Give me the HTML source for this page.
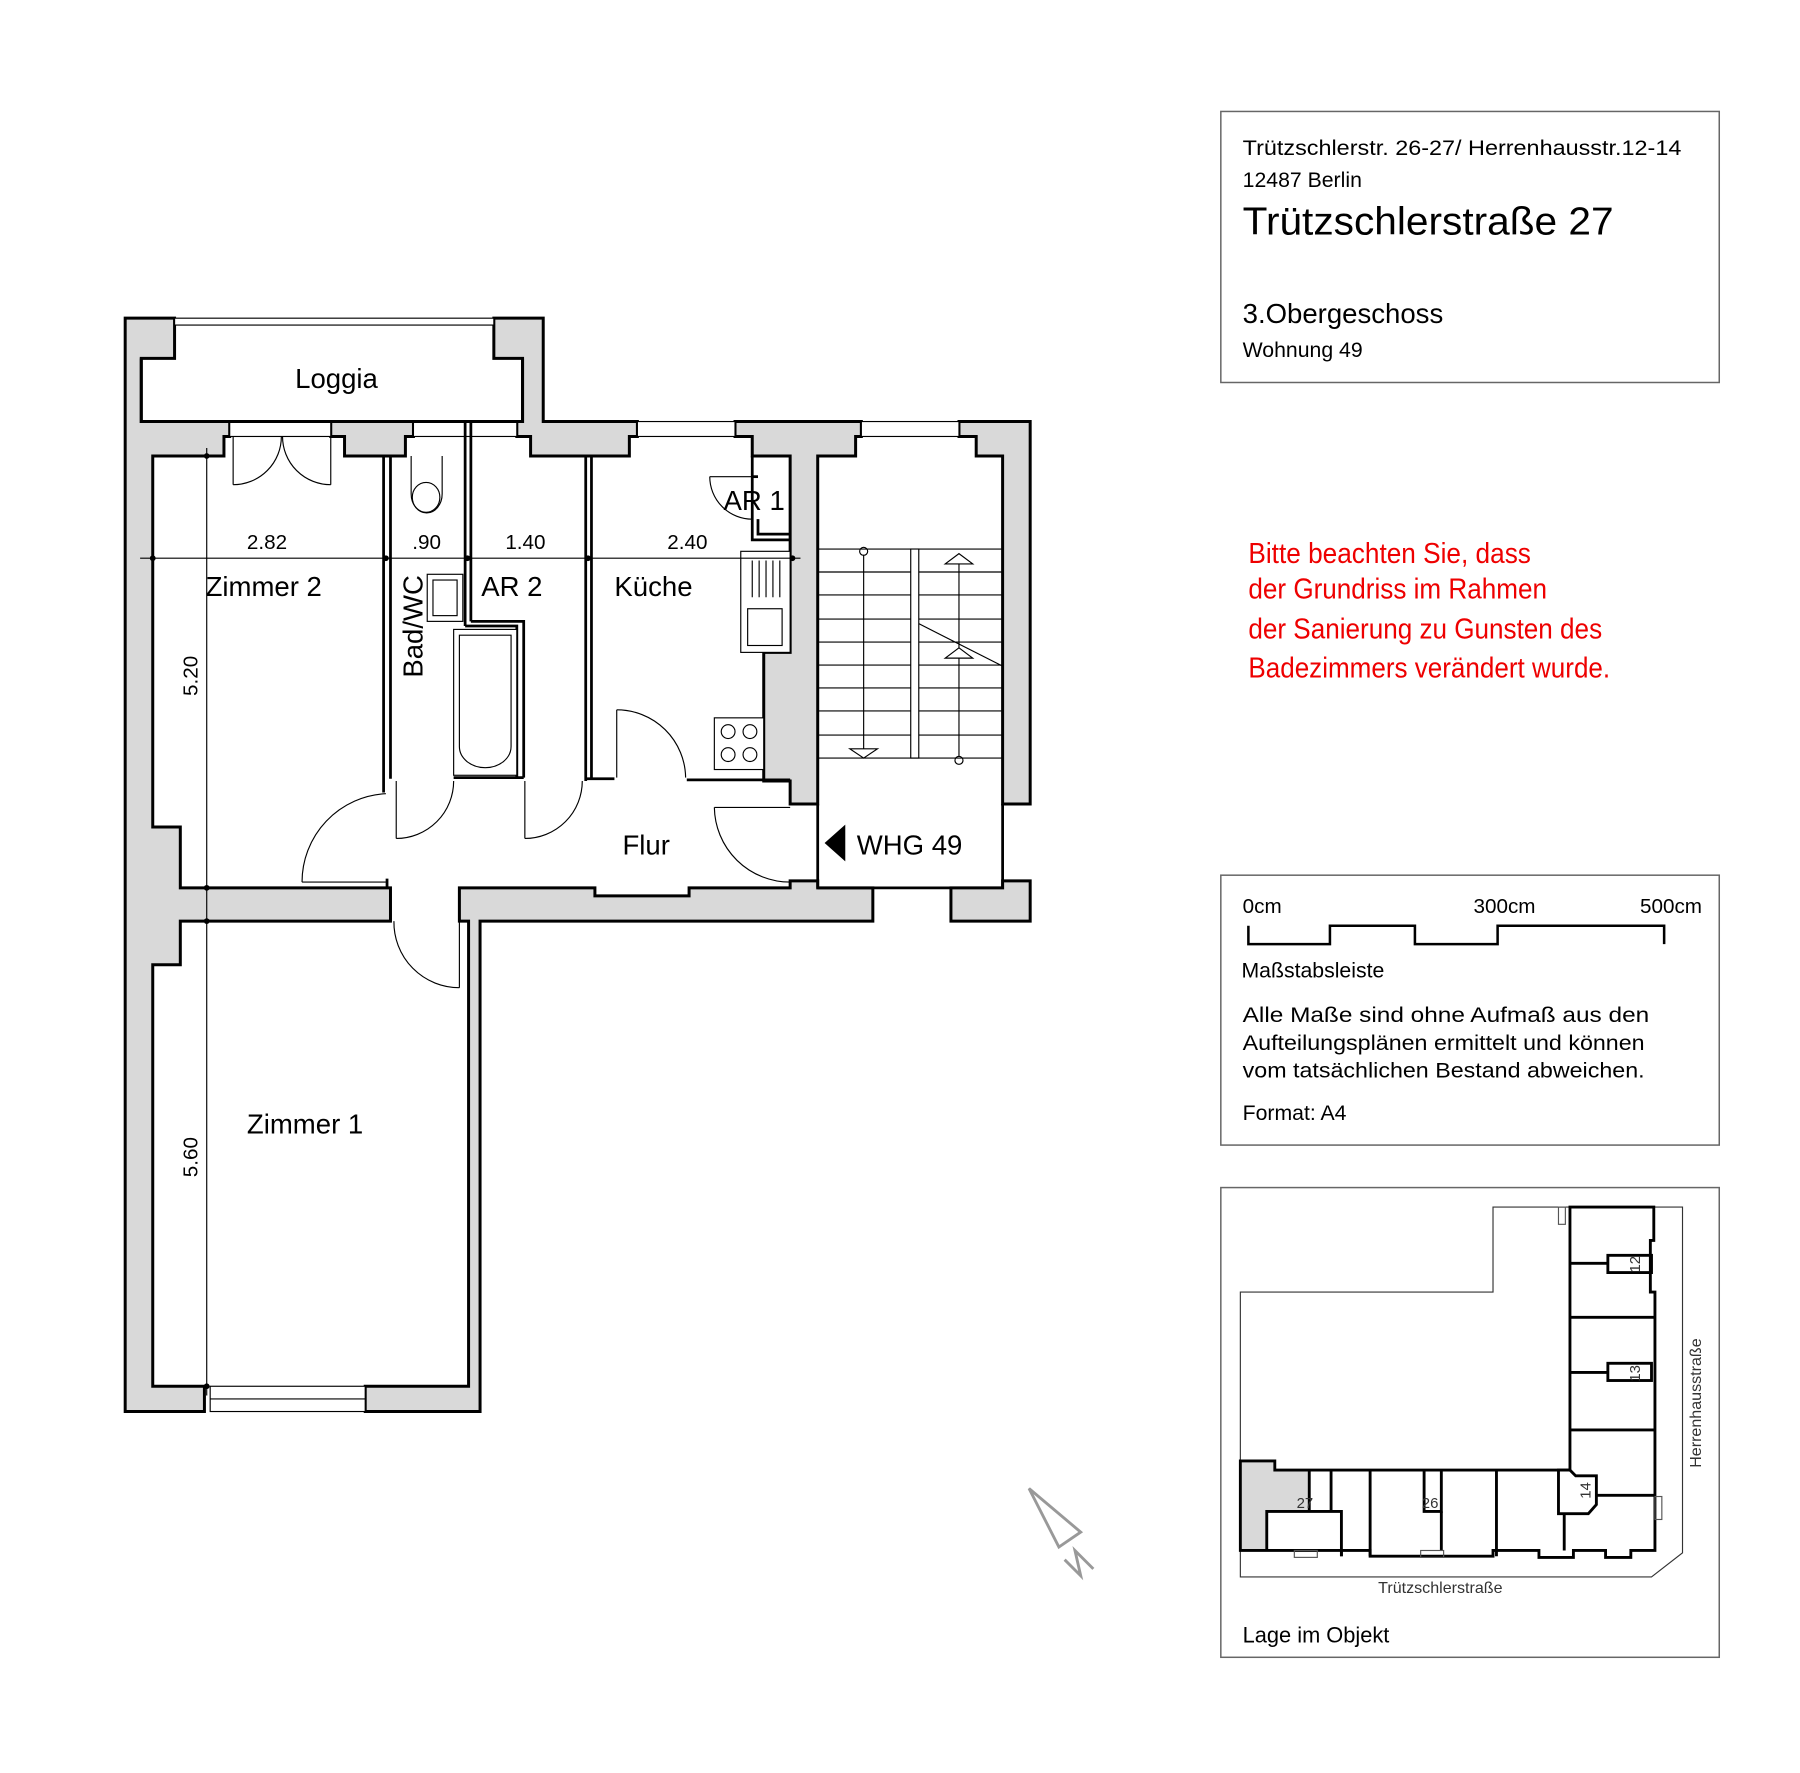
<!DOCTYPE html>
<html><head><meta charset="utf-8"><style>
html,body{margin:0;padding:0;background:#fff}
svg{display:block}
text{font-family:"Liberation Sans",Arial,sans-serif}
</style></head><body>
<svg width="1800" height="1773" viewBox="0 0 1567.3 1543.7" xmlns="http://www.w3.org/2000/svg">
<rect x="0" y="0" width="1568" height="1544" fill="#fff"/>
<g fill="#d9d9d9" stroke="#000" stroke-width="2.6" stroke-linejoin="miter">
<polygon points="109,277 152,277 152,312 123,312 123,367 200,367 200,380 195,380 195,397 133,397 133,720 157,720 157,773 340,773 340,802 157,802 157,840 133,840 133,1207 178,1207 178,1229 109,1229"/>
<polygon points="288,367 360,367 360,380 353,380 353,397 300,397 300,380 288,380"/>
<polygon points="430,277 473,277 473,367 555,367 555,380 548,380 548,397 462,397 462,380 450,380 450,367 455,367 455,312 430,312"/>
<polygon points="640,367 750,367 750,380 745,380 745,397 712,397 712,700 688,700 688,680 665,680 665,568 688,568 688,397 655,397 655,380 640,380"/>
<polygon points="835,367 897,367 897,700 873,700 873,397 850,397 850,380 835,380"/>
<polygon points="400,773 518,773 518,780 600,780 600,773 688,773 688,767 712,767 712,773 760,773 760,802 418,802 418,1229 318,1229 318,1207 408,1207 408,802 400,802"/>
<polygon points="828,773 873,773 873,767 897,767 897,802 828,802"/>
</g>
<g fill="#fff" stroke="#000" stroke-width="1">
<rect x="152" y="277" width="278" height="6"/>
<rect x="200" y="367" width="88" height="13"/>
<rect x="360" y="367" width="90" height="13"/>
<rect x="555" y="367" width="85" height="13"/>
<rect x="750" y="367" width="85" height="13"/>
<rect x="183" y="1207" width="135" height="22"/>
<line x1="183" y1="1218" x2="318" y2="1218"/>
</g>
<polyline points="123,312 123,367 455,367 455,312" fill="none" stroke="#000" stroke-width="2.6"/>
<g fill="none" stroke="#000" stroke-width="2.4">
<line x1="334" y1="397" x2="334" y2="690"/><line x1="340" y1="397" x2="340" y2="678"/>
<line x1="405" y1="367" x2="405" y2="545"/><line x1="410" y1="367" x2="410" y2="541"/>
<polyline points="405,545 450,545 450,677"/><polyline points="410,541 456,541 456,677"/>
<line x1="395" y1="677" x2="456" y2="677"/>
<line x1="510" y1="397" x2="510" y2="680"/><line x1="515" y1="397" x2="515" y2="677"/>
<line x1="510" y1="678" x2="535" y2="678"/>
<line x1="598" y1="679" x2="688" y2="679"/>
<polyline points="655,397 655,470 688,470"/><polyline points="660,452 660,465 688,465"/>
<line x1="655" y1="415" x2="660" y2="415"/>
<line x1="712" y1="700" x2="712" y2="773"/><line x1="873" y1="700" x2="873" y2="773"/>
<line x1="712" y1="773" x2="828" y2="773"/>
<line x1="337" y1="765" x2="337" y2="773"/>
</g>
<g fill="none" stroke="#000" stroke-width="1">
<path d="M263,768 A77,77 0 0 1 336,691"/><line x1="263" y1="768" x2="336" y2="768"/>
<line x1="345" y1="680" x2="345" y2="730"/><path d="M345,730 A50,50 0 0 0 395,680"/>
<line x1="457" y1="680" x2="457" y2="730"/><path d="M457,730 A50,50 0 0 0 507,680"/>
<line x1="537" y1="618" x2="537" y2="677"/><path d="M537,618 A60,60 0 0 1 597,677"/>
<line x1="622" y1="703" x2="688" y2="703"/><path d="M622,703 A66,66 0 0 0 688,768"/>
<line x1="400" y1="802" x2="400" y2="860"/><path d="M343,802 A57,57 0 0 0 400,860"/>
<line x1="203" y1="380" x2="203" y2="422"/><path d="M245,380 A42,42 0 0 1 203,422"/>
<line x1="288" y1="380" x2="288" y2="422"/><path d="M246,380 A42,42 0 0 0 288,422"/>
<line x1="618" y1="415" x2="655" y2="415"/><path d="M618,415 A37,37 0 0 0 655,452"/>
</g>
<g fill="#fff" stroke="#000" stroke-width="1">
<path d="M358,397 L358,430 A13,16 0 1 0 385,430 L385,397"/>
<ellipse cx="371" cy="433" rx="12" ry="13"/>
<rect x="372" y="500" width="31" height="41"/><rect x="377" y="505" width="21" height="31"/>
<rect x="395" y="548" width="55" height="127"/>
<path d="M400,553 L445,553 L445,650 A22,18 0 0 1 400,650 Z"/>
<rect x="645" y="480" width="43" height="88"/><rect x="651" y="530" width="30" height="32"/>
<g><line x1="655" y1="488" x2="655" y2="520"/><line x1="661" y1="488" x2="661" y2="520"/><line x1="667" y1="488" x2="667" y2="520"/><line x1="673" y1="488" x2="673" y2="520"/><line x1="679" y1="488" x2="679" y2="520"/></g>
<rect x="622" y="625" width="43" height="45"/>
<circle cx="634" cy="637" r="6"/><circle cx="653" cy="637" r="6"/><circle cx="634" cy="657" r="6"/><circle cx="653" cy="657" r="6"/>
</g>
<g stroke="#000" stroke-width="1" fill="none">
<line x1="712" y1="478" x2="873" y2="478"/><line x1="712" y1="498" x2="873" y2="498"/><line x1="712" y1="518" x2="873" y2="518"/><line x1="712" y1="539" x2="873" y2="539"/><line x1="712" y1="559" x2="873" y2="559"/><line x1="712" y1="579" x2="873" y2="579"/><line x1="712" y1="599" x2="873" y2="599"/><line x1="712" y1="619" x2="873" y2="619"/><line x1="712" y1="640" x2="873" y2="640"/><line x1="712" y1="660" x2="873" y2="660"/>
<rect x="793" y="478" width="7" height="182" fill="#fff"/>
<line x1="752" y1="483" x2="752" y2="658"/><circle cx="752" cy="480" r="3.5"/>
<polygon points="740,652 764,652 752,660" fill="#fff"/>
<line x1="835" y1="486" x2="835" y2="659"/><circle cx="835" cy="662" r="3.5"/>
<polygon points="823,491 847,491 835,482" fill="#fff"/>
<polygon points="823,573 847,573 835,564" fill="#fff"/>
<line x1="800" y1="543" x2="873" y2="580"/>
</g>
<polygon points="718,734 736,718 736,750" fill="#000"/>
<g stroke="#000" stroke-width="1">
<line x1="122" y1="486" x2="697" y2="486"/>
<line x1="180" y1="390" x2="180" y2="1215"/>
</g>
<g fill="#000"><circle cx="133" cy="486" r="2.5"/><circle cx="336" cy="486" r="2.5"/><circle cx="407" cy="486" r="2.5"/><circle cx="512" cy="486" r="2.5"/><circle cx="690" cy="486" r="2.5"/>
<circle cx="180" cy="397" r="2.5"/><circle cx="180" cy="773" r="2.5"/><circle cx="180" cy="802" r="2.5"/><circle cx="180" cy="1207" r="2.5"/></g>
<g font-size="24" fill="#000">
<text x="257" y="338">Loggia</text>
<text x="179" y="519">Zimmer 2</text>
<text x="419" y="519">AR 2</text>
<text x="535" y="519">Küche</text>
<text x="630" y="444">AR 1</text>
<text x="542" y="744">Flur</text>
<text x="746" y="744">WHG 49</text>
<text x="215" y="987">Zimmer 1</text>
<text transform="translate(368,590) rotate(-90)">Bad/WC</text>
</g>
<g font-size="18" fill="#000">
<text x="215" y="478">2.82</text><text x="359" y="478">.90</text><text x="440" y="478">1.40</text><text x="581" y="478">2.40</text>
<text transform="translate(172,606) rotate(-90)">5.20</text>
<text transform="translate(172,1025) rotate(-90)">5.60</text>
</g>
<g fill="none" stroke="#999" stroke-width="2.5">
<polygon points="896,1296 941,1334 922,1347"/>
<polyline points="927,1358 941,1372 936,1350 952,1366"/>
</g>
<g fill="none" stroke="#666" stroke-width="1.3">
<rect x="1063" y="97" width="434" height="236"/>
<rect x="1063" y="762" width="434" height="235"/>
<rect x="1063" y="1034" width="434" height="409"/>
</g>
<g fill="#000">
<text x="1082" y="135" font-size="18.5" textLength="382" lengthAdjust="spacingAndGlyphs">Trützschlerstr. 26-27/ Herrenhausstr.12-14</text>
<text x="1082" y="163" font-size="18.5">12487 Berlin</text>
<text x="1082" y="204" font-size="34" textLength="323" lengthAdjust="spacingAndGlyphs">Trützschlerstraße 27</text>
<text x="1082" y="281" font-size="24">3.Obergeschoss</text>
<text x="1082" y="311" font-size="18.5">Wohnung 49</text>
</g>
<g font-size="25" style="fill:#e00">
<text x="1087" y="490" style="fill:#e00" textLength="246" lengthAdjust="spacingAndGlyphs">Bitte beachten Sie, dass</text>
<text x="1087" y="521" style="fill:#e00" textLength="260" lengthAdjust="spacingAndGlyphs">der Grundriss im Rahmen</text>
<text x="1087" y="556" style="fill:#e00" textLength="308" lengthAdjust="spacingAndGlyphs">der Sanierung zu Gunsten des</text>
<text x="1087" y="590" style="fill:#e00" textLength="315" lengthAdjust="spacingAndGlyphs">Badezimmers verändert wurde.</text>
</g>
<g fill="#000">
<text x="1082" y="795" font-size="18">0cm</text>
<text x="1283" y="795" font-size="18">300cm</text>
<text x="1428" y="795" font-size="18">500cm</text>
<text x="1081" y="851" font-size="18.5">Maßstabsleiste</text>
<text x="1082" y="890" font-size="18.5" textLength="354" lengthAdjust="spacingAndGlyphs">Alle Maße sind ohne Aufmaß aus den</text>
<text x="1082" y="914" font-size="18.5" textLength="350" lengthAdjust="spacingAndGlyphs">Aufteilungsplänen ermittelt und können</text>
<text x="1082" y="938" font-size="18.5" textLength="350" lengthAdjust="spacingAndGlyphs">vom tatsächlichen Bestand abweichen.</text>
<text x="1082" y="975" font-size="18.5">Format: A4</text>
</g>
<polyline points="1087,806 1087,822 1158,822 1158,806 1232,806 1232,822 1304,822 1304,806 1449,806 1449,822" fill="none" stroke="#000" stroke-width="2.2"/>
<polygon points="1080,1125 1300,1125 1300,1051 1465,1051 1465,1352 1438,1373 1080,1373" fill="none" stroke="#333" stroke-width="1"/>
<polygon points="1080,1272 1110,1272 1110,1280 1140,1280 1140,1316 1103,1316 1103,1350 1080,1350" fill="#d9d9d9"/>
<g fill="none" stroke="#000" stroke-width="2.5">
<polygon points="1080,1272 1110,1272 1110,1280 1367,1280 1367,1051 1440,1051 1440,1080 1437,1080 1437,1125 1441,1125 1441,1350 1420,1350 1420,1356 1398,1356 1398,1350 1370,1350 1370,1356 1340,1356 1340,1350 1300,1350 1300,1355 1193,1355 1193,1350 1168,1350 1168,1355 1168,1350 1080,1350"/>
<polyline points="1103,1350 1103,1316 1168,1316 1168,1355"/>
<line x1="1140" y1="1280" x2="1140" y2="1316"/><line x1="1159" y1="1280" x2="1159" y2="1316"/>
<line x1="1193" y1="1280" x2="1193" y2="1355"/>
<polyline points="1240,1280 1240,1316 1255,1316 1255,1280"/><line x1="1255" y1="1316" x2="1255" y2="1350"/>
<line x1="1303" y1="1280" x2="1303" y2="1355"/>
<polygon points="1357,1280 1367,1280 1372,1285 1390,1285 1390,1310 1383,1318 1357,1318"/>
<line x1="1362" y1="1318" x2="1362" y2="1350"/>
<line x1="1390" y1="1302" x2="1440" y2="1302"/>
<line x1="1367" y1="1100" x2="1400" y2="1100"/><rect x="1400" y="1093" width="38" height="15"/><line x1="1367" y1="1147" x2="1440" y2="1147"/>
<line x1="1367" y1="1195" x2="1400" y2="1195"/><rect x="1400" y="1187" width="38" height="15"/><line x1="1367" y1="1245" x2="1440" y2="1245"/>
</g>
<g fill="none" stroke="#555" stroke-width="1"><rect x="1127" y="1350" width="20" height="6"/><rect x="1237" y="1350" width="20" height="6"/><rect x="1357" y="1051" width="6" height="15"/><rect x="1441" y="1303" width="6" height="20"/></g>
<g font-size="13" fill="#333"><text x="1129" y="1313">27</text><text x="1238" y="1313">26</text>
<text transform="translate(1428,1108) rotate(-90)">12</text><text transform="translate(1428,1203) rotate(-90)">13</text><text transform="translate(1385,1305) rotate(-90)">14</text></g>
<text x="1200" y="1387" font-size="14" fill="#333">Trützschlerstraße</text>
<text transform="translate(1481,1278) rotate(-90)" font-size="14" fill="#333">Herrenhausstraße</text>
<text x="1082" y="1430" font-size="19" fill="#000">Lage im Objekt</text>
</svg>
</body></html>
